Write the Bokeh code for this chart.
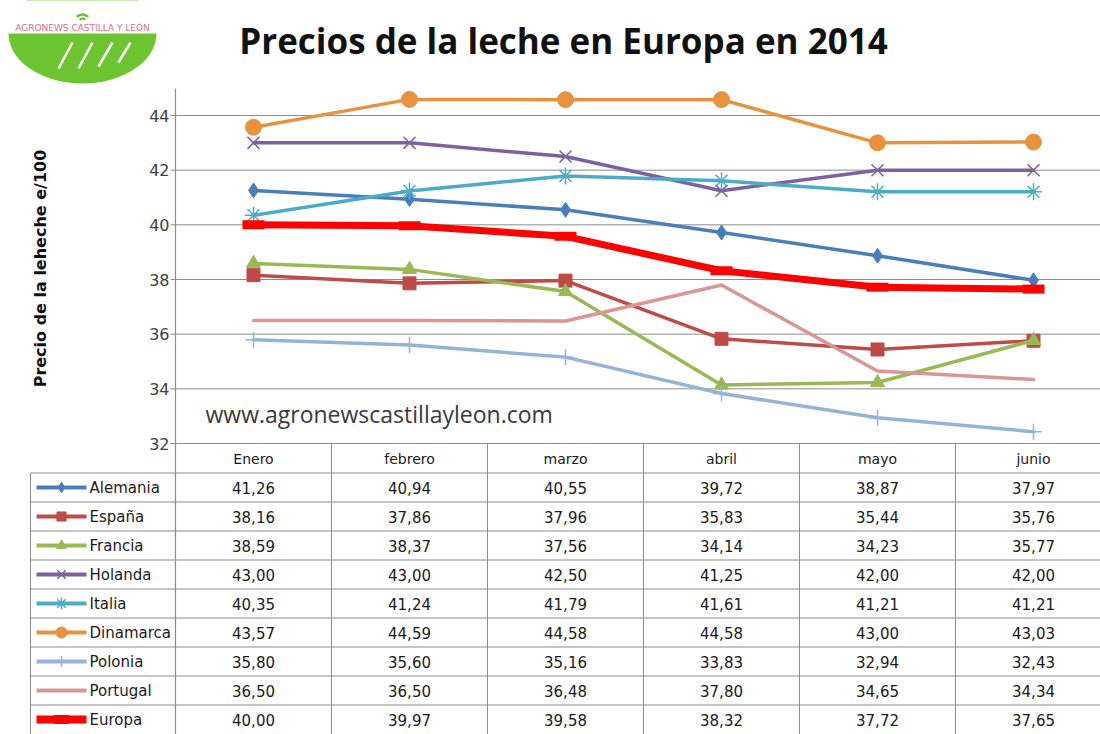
import math
from bokeh.plotting import figure
from bokeh.models import Range1d
from bokeh.core.properties import value
from bokeh.embed import file_html
from bokeh.resources import INLINE

# ---------------- data ----------------
months = ["Enero", "febrero", "marzo", "abril", "mayo", "junio"]
countries = ["Alemania", "España", "Francia", "Holanda", "Italia",
             "Dinamarca", "Polonia", "Portugal", "Europa"]
alemania = [41.26, 40.94, 40.55, 39.72, 38.87, 37.97]
espana = [38.16, 37.86, 37.96, 35.83, 35.44, 35.76]
francia = [38.59, 38.37, 37.56, 34.14, 34.23, 35.77]
holanda = [43.00, 43.00, 42.50, 41.25, 42.00, 42.00]
italia = [40.35, 41.24, 41.79, 41.61, 41.21, 41.21]
dinamarca = [43.57, 44.59, 44.58, 44.58, 43.00, 43.03]
polonia = [35.80, 35.60, 35.16, 33.83, 32.94, 32.43]
portugal = [36.50, 36.50, 36.48, 37.80, 34.65, 34.34]
europa = [40.00, 39.97, 39.58, 38.32, 37.72, 37.65]
series = [alemania, espana, francia, holanda, italia, dinamarca, polonia, portugal, europa]
y_ticks = [32, 34, 36, 38, 40, 42, 44]

title = "Precios de la leche en Europa en 2014"
y_label = "Precio de la leheche e/100"
watermark = "www.agronewscastillayleon.com"
logo_text = "AGRONEWS CASTILLA Y LEÓN"

# ---------------- styles ----------------
colors = ["#4A7EBB", "#BE4B48", "#98B954", "#7D60A0", "#4BACC6",
          "#E8923F", "#95B3D7", "#D99694", "#FF0000"]
markers = ["diamond", "square", "triangle", "x", "asterisk",
           "circle", "cross", None, "dash"]
msizes = [15, 13, 14, 17, 17, 16, 16, 0, 22]
mline = [1, 1, 1, 1.5, 1.5, 1, 1.5, 1, 9]
lwidths = [3.5, 3.5, 3.5, 3.5, 3.5, 3.5, 3.5, 3.5, 7]

# ---------------- layout (page pixels) ----------------
W, H = 1100, 734
OX, OY = 0, 0
X_LEFT = 175                       # axis line
MONTH0 = 253                       # centre of first month
PITCH = 156                        # month spacing
Y32, PPU = 443, 27.333             # pixel of value 32, pixels per unit
ROW0, ROWH = 458, 29               # header row centre, row height
TABLE_LEFT = 30

x_start = (OX - MONTH0) / PITCH
x_end = (OX + W - MONTH0) / PITCH
y_end = 32 + (Y32 - OY) / PPU
y_start = 32 - (OY + H - Y32) / PPU

p = figure(width=W, height=H, output_backend="svg", toolbar_location=None,
           x_range=Range1d(x_start, x_end), y_range=Range1d(y_start, y_end),
           x_axis_location=None, y_axis_location=None,
           min_border=0, outline_line_color=None)
p.xgrid.visible = False
p.ygrid.visible = False
p.background_fill_color = "white"
p.extra_x_ranges = {"px": Range1d(OX, OX + W)}
p.extra_y_ranges = {"py": Range1d(OY + H, OY),
                    "row": Range1d((OY + H - ROW0) / ROWH, (OY - ROW0) / ROWH)}

x_axis_val = (X_LEFT - MONTH0) / PITCH
nm = len(months)
grid_col = "#8C8C8C"

# horizontal gridlines
p.segment(x0=[x_axis_val] * len(y_ticks), x1=[x_end] * len(y_ticks),
          y0=y_ticks, y1=y_ticks, line_color=grid_col, line_width=1)
# tick marks
p.segment(x0=[x_axis_val - 5 / PITCH] * len(y_ticks), x1=[x_axis_val] * len(y_ticks),
          y0=y_ticks, y1=y_ticks, line_color=grid_col, line_width=1)
# tick labels
p.text(x=[x_axis_val - 6 / PITCH] * len(y_ticks), y=y_ticks, text=[str(t) for t in y_ticks],
       text_align="right", text_baseline="middle", text_font=value("DejaVu Sans"),
       text_font_size="16px", text_color="#404040")

# ---------------- table ----------------
nrows = len(countries)
sep_rows = [0.5 + k for k in range(nrows)]
p.segment(x0=[TABLE_LEFT] * nrows, x1=[OX + W] * nrows, y0=sep_rows, y1=sep_rows,
          x_range_name="px", y_range_name="row", line_color=grid_col, line_width=1)
bottom_row = nrows + 1
p.segment(x0=[X_LEFT], x1=[X_LEFT], y0=[88], y1=[OY + H + 10],
          x_range_name="px", y_range_name="py", line_color=grid_col, line_width=1.2)
p.segment(x0=[TABLE_LEFT], x1=[TABLE_LEFT], y0=[0.5], y1=[bottom_row],
          x_range_name="px", y_range_name="row", line_color=grid_col, line_width=1)
vb = [i + 0.5 for i in range(nm - 1)]
p.segment(x0=vb, x1=vb, y0=[32] * len(vb), y1=[y_start - 1] * len(vb),
          line_color=grid_col, line_width=1)

font = value("DejaVu Sans")
p.text(x=list(range(nm)), y=[0] * nm, text=months, y_range_name="row",
       text_align="center", text_baseline="middle", text_font=font,
       text_font_size="14px", text_color="#1A1A1A")

for i, (name, vals) in enumerate(zip(countries, series)):
    r = i + 1
    p.text(x=list(range(nm)), y=[r] * nm,
           text=[f"{v:.2f}".replace(".", ",") for v in vals], y_range_name="row",
           text_align="center", text_baseline="middle", text_font=font,
           text_font_size="15px", text_color="#1A1A1A")
    p.line(x=[36, 86], y=[r, r], x_range_name="px", y_range_name="row",
           line_color=colors[i], line_width=lwidths[i] + (1 if i == 8 else 0.5))
    if markers[i]:
        p.scatter(x=[61], y=[r], x_range_name="px", y_range_name="row",
                  marker=markers[i], size=msizes[i] * 0.7, color=colors[i],
                  line_width=mline[i])
    p.text(x=[89], y=[r], text=[name], x_range_name="px", y_range_name="row",
           text_align="left", text_baseline="middle", text_font=font,
           text_font_size="15px", text_color="#1A1A1A")

# ---------------- series ----------------
xs = list(range(nm))
for i, vals in enumerate(series):
    p.line(x=xs, y=vals, line_color=colors[i], line_width=lwidths[i],
           line_join="round", line_cap="round")
    if markers[i]:
        p.scatter(x=xs, y=vals, marker=markers[i], size=msizes[i],
                  fill_color=colors[i], line_color=colors[i], line_width=mline[i])

# ---------------- texts ----------------
p.text(x=[563], y=[40], text=[title], x_range_name="px", y_range_name="py",
       text_align="center", text_baseline="middle", text_font=value("Open Sans"),
       text_font_style="bold", text_font_size="35px", text_color="#111111")
p.text(x=[40], y=[268], text=[y_label], x_range_name="px", y_range_name="py",
       angle=math.pi / 2, text_align="center", text_baseline="middle",
       text_font=value("DejaVu Sans"), text_font_style="bold",
       text_font_size="16px", text_color="#111111")
p.text(x=[205], y=[413], text=[watermark], x_range_name="px", y_range_name="py",
       text_align="left", text_baseline="middle", text_font=value("Open Sans"),
       text_font_size="23px", text_color="#3A3A3A")

# ---------------- logo ----------------
green = "#6CC530"
p.ellipse(x=[82], y=[33], width=[148], height=[100], x_range_name="px",
          y_range_name="py", fill_color=green, line_color=None)
p.quad(left=[OX], right=[170], top=[OY], bottom=[33], x_range_name="px",
       y_range_name="py", fill_color="white", line_color=None)
p.segment(x0=[58, 78, 98, 118], y0=[68, 68, 66, 62], x1=[72, 92, 112, 130],
          y1=[42, 42, 42, 42], x_range_name="px", y_range_name="py",
          line_color="white", line_width=2.5)
p.arc(x=[82], y=[22], radius=[8], start_angle=[0.25 * math.pi], end_angle=[0.75 * math.pi],
      radius_units="screen", x_range_name="px", y_range_name="py",
      line_color=green, line_width=2.5)
p.arc(x=[82], y=[22], radius=[4], start_angle=[0.25 * math.pi], end_angle=[0.75 * math.pi],
      radius_units="screen", x_range_name="px", y_range_name="py",
      line_color=green, line_width=2)
p.text(x=[82], y=[27], text=[logo_text], x_range_name="px", y_range_name="py",
       text_align="center", text_baseline="middle", text_font=value("DejaVu Sans"),
       text_font_size="9px", text_color="#D8708A")

open("out.html", "w").write(file_html(p, INLINE))
